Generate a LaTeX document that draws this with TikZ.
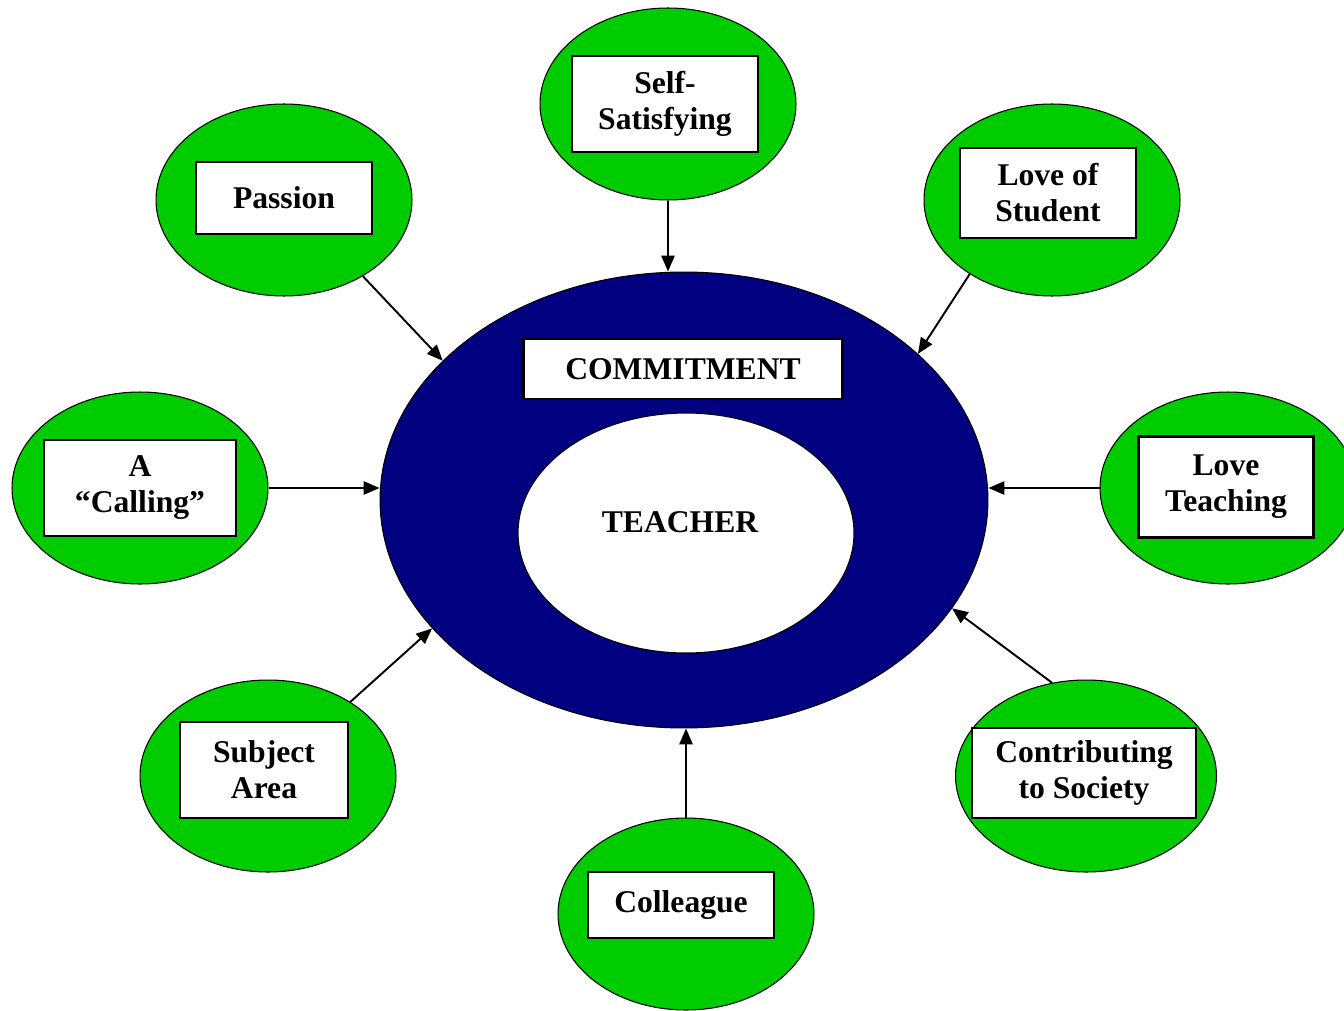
\documentclass[tikz,border=0pt]{standalone}
\usepackage{fontspec}
\setmainfont{Liberation Serif}
\usetikzlibrary{positioning,shapes.geometric,arrows.meta}
\definecolor{leafgreen}{RGB}{0,204,0}
\definecolor{ringblue}{RGB}{0,0,128}
\tikzstyle{bubble} = [ellipse, draw=black, semithick, fill=leafgreen, minimum width=5.12cm, minimum height=3.84cm, inner sep=0pt]
\tikzstyle{tag} = [rectangle, draw=black, line width=1.4pt, fill=white, align=center, inner sep=0pt, font=\bfseries\fontsize{18}{20.5}\selectfont]
\tikzstyle{arrow} = [line width=1.1pt, -{Triangle[length=9pt,width=7.5pt]}]

\begin{document}
\begin{tikzpicture}[x=0.02cm, y=-0.02cm]
          \useasboundingbox (0,0) rectangle (1344,1010);
          % centre
          \node (ring) [ellipse, draw=black, semithick, fill=ringblue, minimum width=12.16cm, minimum height=9.12cm] at (684,500) {};
          \node (core) [ellipse, draw=black, semithick, fill=white, minimum width=6.72cm, minimum height=4.8cm] at (686,533) {};
          \node (teacher) [font=\bfseries\fontsize{18}{20.5}\selectfont] at (680,522) {TEACHER};
          \node (commit) [tag, minimum width=6.38cm, minimum height=1.2cm] at (683,369) {COMMITMENT};
          % bubbles
          \node (self) [bubble] at (668,104) {};
          \node (passion) [bubble] at (284,200) {};
          \node (lovestudent) [bubble] at (1052,200) {};
          \node (calling) [bubble] at (140,488) {};
          \node (loveteach) [bubble] at (1228,488) {};
          \node (subject) [bubble] at (268,776) {};
          \node (colleague) [bubble] at (686,914) {};
          \node (society) [bubble, minimum width=5.22cm] at (1086,776) {};
          % labels
          \node (selfbox) [tag, minimum width=3.72cm, minimum height=1.92cm] at (665,104) {Self-\\Satisfying};
          \node (passionbox) [tag, minimum width=3.52cm, minimum height=1.44cm] at (284,198) {Passion};
          \node (lovestudentbox) [tag, minimum width=3.52cm, minimum height=1.8cm] at (1048,193) {Love of\\Student};
          \node (callingbox) [tag, minimum width=3.84cm, minimum height=1.92cm] at (140,488) {A\\“Calling”};
          \node (loveteachbox) [tag, minimum width=3.5cm, minimum height=2.02cm] at (1226,487) {Love\\Teaching};
          \node (subjectbox) [tag, minimum width=3.36cm, minimum height=1.92cm] at (264,770) {Subject\\Area};
          \node (colleaguebox) [tag, minimum width=3.72cm, minimum height=1.32cm] at (681,905) {Colleague};
          \node (societybox) [tag, minimum width=4.48cm, minimum height=1.8cm] at (1084,773) {Contributing\\to Society};
          % arrows
          \draw [arrow] (self.south) -- (self.south |- ring.north);
          \draw [arrow] (passion.-44) -- (ring.150);
          \draw [arrow] (lovestudent.222) -- (ring.32);
          \draw [arrow] (calling.east) -- (calling.east -| ring.west);
          \draw [arrow] (loveteach.west) -- (loveteach.west -| ring.east);
          \draw [arrow] (subject.42) -- (ring.207);
          \draw [arrow] (colleague.north) -- (colleague.north |- ring.south);
          \draw [arrow] (society.110) -- (ring.-22);
        \end{tikzpicture}
\end{document}
